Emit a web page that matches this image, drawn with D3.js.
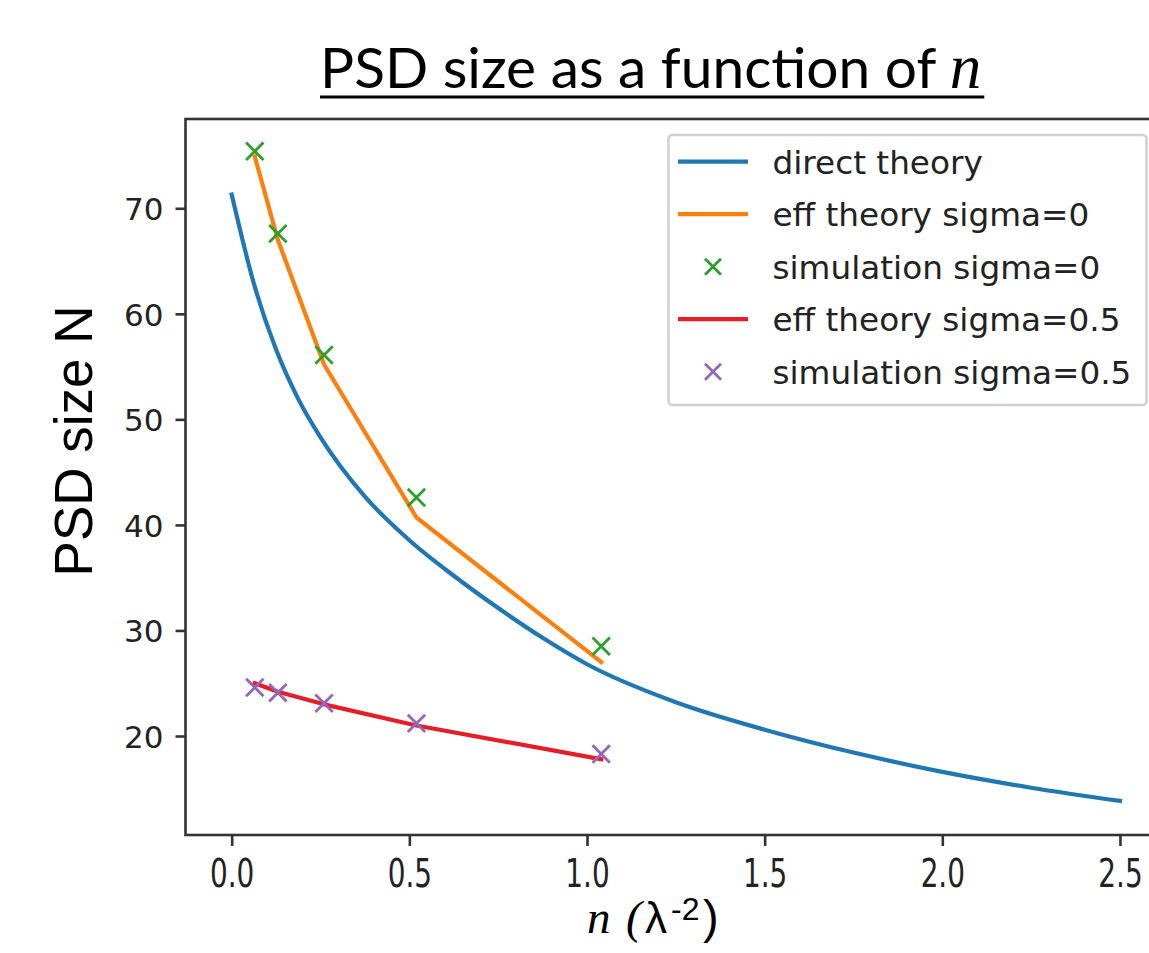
<!DOCTYPE html>
<html>
<head>
<meta charset="utf-8">
<script src="https://cdn.jsdelivr.net/npm/d3@7"></script>
<style>
  html, body { margin: 0; padding: 0; background: #fff; }
  svg { display: block; }
</style>
</head>
<body>
<svg id="chart" width="1149" height="953"></svg>
<script>
// ---- data ----
const nDirect = [0, 0.0625, 0.125, 0.1875, 0.25, 0.375, 0.5, 0.625, 0.75, 0.875, 1.0, 1.25, 1.5, 1.75, 2.0, 2.25, 2.5];
const directTheory = [71.3, 62.86, 56.61, 51.92, 48.3, 42.68, 38.55, 35.18, 32.12, 29.3, 26.8, 23.2, 20.6, 18.43, 16.6, 15.1, 13.85];
const nSim = [0.065, 0.13, 0.26, 0.52, 1.04];
const effTheory0 = [74.9, 67.0, 55.2, 40.7, 27.0];
const simulation0 = [75.4, 67.6, 56.1, 42.6, 28.5];
const effTheory05 = [25.0, 24.2, 23.0, 21.0, 17.8];
const simulation05 = [24.6, 24.1, 23.1, 21.2, 18.3];
const xTicks = [0, 0.5, 1.0, 1.5, 2.0, 2.5];
const xTickLabels = ["0.0", "0.5", "1.0", "1.5", "2.0", "2.5"];
const yTicks = [20, 30, 40, 50, 60, 70];
const yTickLabels = ["20", "30", "40", "50", "60", "70"];
const legendLabels = ["direct theory", "eff theory sigma=0", "simulation sigma=0", "eff theory sigma=0.5", "simulation sigma=0.5"];

(function () {
const C = { blue: "#1f77b4", orange: "#ff7f0e", green: "#2ca02c", red: "#e41e26", purple: "#9467bd" };
const svg = d3.select("#chart");
svg.append("rect").attr("width", 1149).attr("height", 953).attr("fill", "#fff");

const pL = 185.5, pR = 1162.6, pT = 119, pB = 835;
const x = d3.scaleLinear().domain([-0.13, 2.62]).range([pL, pR]);
const y = d3.scaleLinear().domain([10.62, 78.46]).range([pB, pT]);

// title
const title = svg.append("text").attr("x", 320).attr("y", 88).attr("fill", "#000");
const tMain = title.append("tspan").attr("font-family", "Lato, 'Open Sans', sans-serif").attr("font-size", 57).text("PSD size as a function of ");
title.append("tspan").attr("font-family", "'Liberation Serif', 'DejaVu Serif', serif").attr("font-style", "italic").attr("font-size", 63).text("n");
const w0 = tMain.node().getComputedTextLength();
tMain.attr("font-size", 57 * 630 / w0);
const tw = title.node().getComputedTextLength();
svg.append("line").attr("x1", 320).attr("x2", 320 + tw + 3).attr("y1", 97).attr("y2", 97)
  .attr("stroke", "#000").attr("stroke-width", 3);

// x axis ticks
const gx = svg.append("g").attr("transform", `translate(0,${pB})`)
  .call(d3.axisBottom(x).tickValues(xTicks).tickFormat((d, i) => xTickLabels[i]).tickSize(11));
gx.select(".domain").remove();
gx.selectAll(".tick line").attr("stroke", "#333").attr("stroke-width", 2.6);
gx.selectAll(".tick text").remove();
gx.selectAll(".tick").append("text")
  .attr("transform", `translate(0,${887 - pB}) scale(0.9,1.25)`)
  .attr("text-anchor", "middle")
  .attr("font-family", "'DejaVu Sans', sans-serif").attr("font-size", 31).attr("fill", "#222")
  .text((d, i) => xTickLabels[i]);

// y axis ticks
const gy = svg.append("g").attr("transform", `translate(${pL},0)`)
  .call(d3.axisLeft(y).tickValues(yTicks).tickFormat((d, i) => yTickLabels[i]).tickSize(10).tickPadding(12));
gy.select(".domain").remove();
gy.selectAll(".tick line").attr("stroke", "#333").attr("stroke-width", 2.6);
gy.selectAll(".tick text").attr("font-family", "'DejaVu Sans', sans-serif").attr("font-size", 31)
  .attr("fill", "#222").attr("dy", "0.36em");

// frame
svg.append("rect").attr("x", pL).attr("y", pT).attr("width", pR - pL).attr("height", pB - pT)
  .attr("fill", "none").attr("stroke", "#333").attr("stroke-width", 2.6);

// series
const line = d3.line().x(d => x(d[0])).y(d => y(d[1]));
const smooth = d3.line().x(d => x(d[0])).y(d => y(d[1])).curve(d3.curveMonotoneX);
const plotArea = svg.append("g");
plotArea.append("path").datum(nDirect.map((n, i) => [n, directTheory[i]]))
  .attr("d", smooth).attr("fill", "none").attr("stroke", C.blue).attr("stroke-width", 4.2).attr("stroke-linecap", "square");
plotArea.append("path").datum(nSim.map((n, i) => [n, effTheory0[i]]))
  .attr("d", line).attr("fill", "none").attr("stroke", C.orange).attr("stroke-width", 4.2).attr("stroke-linecap", "square").attr("stroke-linejoin", "round");

function crosses(vals, color) {
  const m = 8.7;
  plotArea.append("g").selectAll("path").data(nSim.map((n, i) => [n, vals[i]])).join("path")
    .attr("d", d => { const cx = x(d[0]), cy = y(d[1]); return `M${cx - m},${cy - m}L${cx + m},${cy + m}M${cx - m},${cy + m}L${cx + m},${cy - m}`; })
    .attr("stroke", color).attr("stroke-width", 2.8).attr("fill", "none");
}
crosses(simulation0, C.green);
plotArea.append("path").datum(nSim.map((n, i) => [n, effTheory05[i]]))
  .attr("d", line).attr("fill", "none").attr("stroke", C.red).attr("stroke-width", 4.2).attr("stroke-linecap", "square").attr("stroke-linejoin", "round");
crosses(simulation05, C.purple);

// y label
svg.append("text").attr("transform", "translate(92,441) rotate(-90)").attr("text-anchor", "middle")
  .attr("font-family", "'Liberation Sans', Arial, sans-serif").attr("font-size", 53).attr("fill", "#000")
  .text("PSD size N");

// x label
const xl = svg.append("text").attr("y", 933).attr("fill", "#000");
xl.append("tspan").attr("x", 587).attr("font-family", "'Liberation Serif', serif").attr("font-style", "italic").attr("font-size", 47).text("n");
xl.append("tspan").attr("x", 626).attr("font-family", "'Liberation Serif', serif").attr("font-style", "italic").attr("font-size", 47).text("(");
xl.append("tspan").attr("x", 645).attr("font-family", "'Liberation Sans', sans-serif").attr("font-size", 44).text("λ");
xl.append("tspan").attr("x", 671).attr("font-family", "'Liberation Sans', sans-serif").attr("font-size", 32).attr("dy", -13).text("-2");
xl.append("tspan").attr("x", 703).attr("font-family", "'Liberation Sans', sans-serif").attr("font-size", 47).attr("dy", 13).text(")");

// legend
const lg = svg.append("g");
lg.append("rect").attr("x", 668.5).attr("y", 135).attr("width", 478).attr("height", 270).attr("rx", 4)
  .attr("fill", "#fff").attr("fill-opacity", 0.8).attr("stroke", "#d0d0d0").attr("stroke-width", 2.5);
const kinds = [["line", C.blue], ["line", C.orange], ["x", C.green], ["line", C.red], ["x", C.purple]];
kinds.forEach(([k, col], i) => {
  const cy = 161.7 + i * 52.5;
  if (k === "line") {
    lg.append("line").attr("x1", 678).attr("x2", 748).attr("y1", cy).attr("y2", cy).attr("stroke", col).attr("stroke-width", 4.2);
  } else {
    const m = 8, cx = 713;
    lg.append("path").attr("d", `M${cx - m},${cy - m}L${cx + m},${cy + m}M${cx - m},${cy + m}L${cx + m},${cy - m}`)
      .attr("stroke", col).attr("stroke-width", 2.8).attr("fill", "none");
  }
  lg.append("text").attr("x", 772.5).attr("y", cy + 12).attr("font-family", "'DejaVu Sans', sans-serif")
    .attr("font-size", 32.7).attr("fill", "#222").text(legendLabels[i]);
});
})();
</script>
</body>
</html>
